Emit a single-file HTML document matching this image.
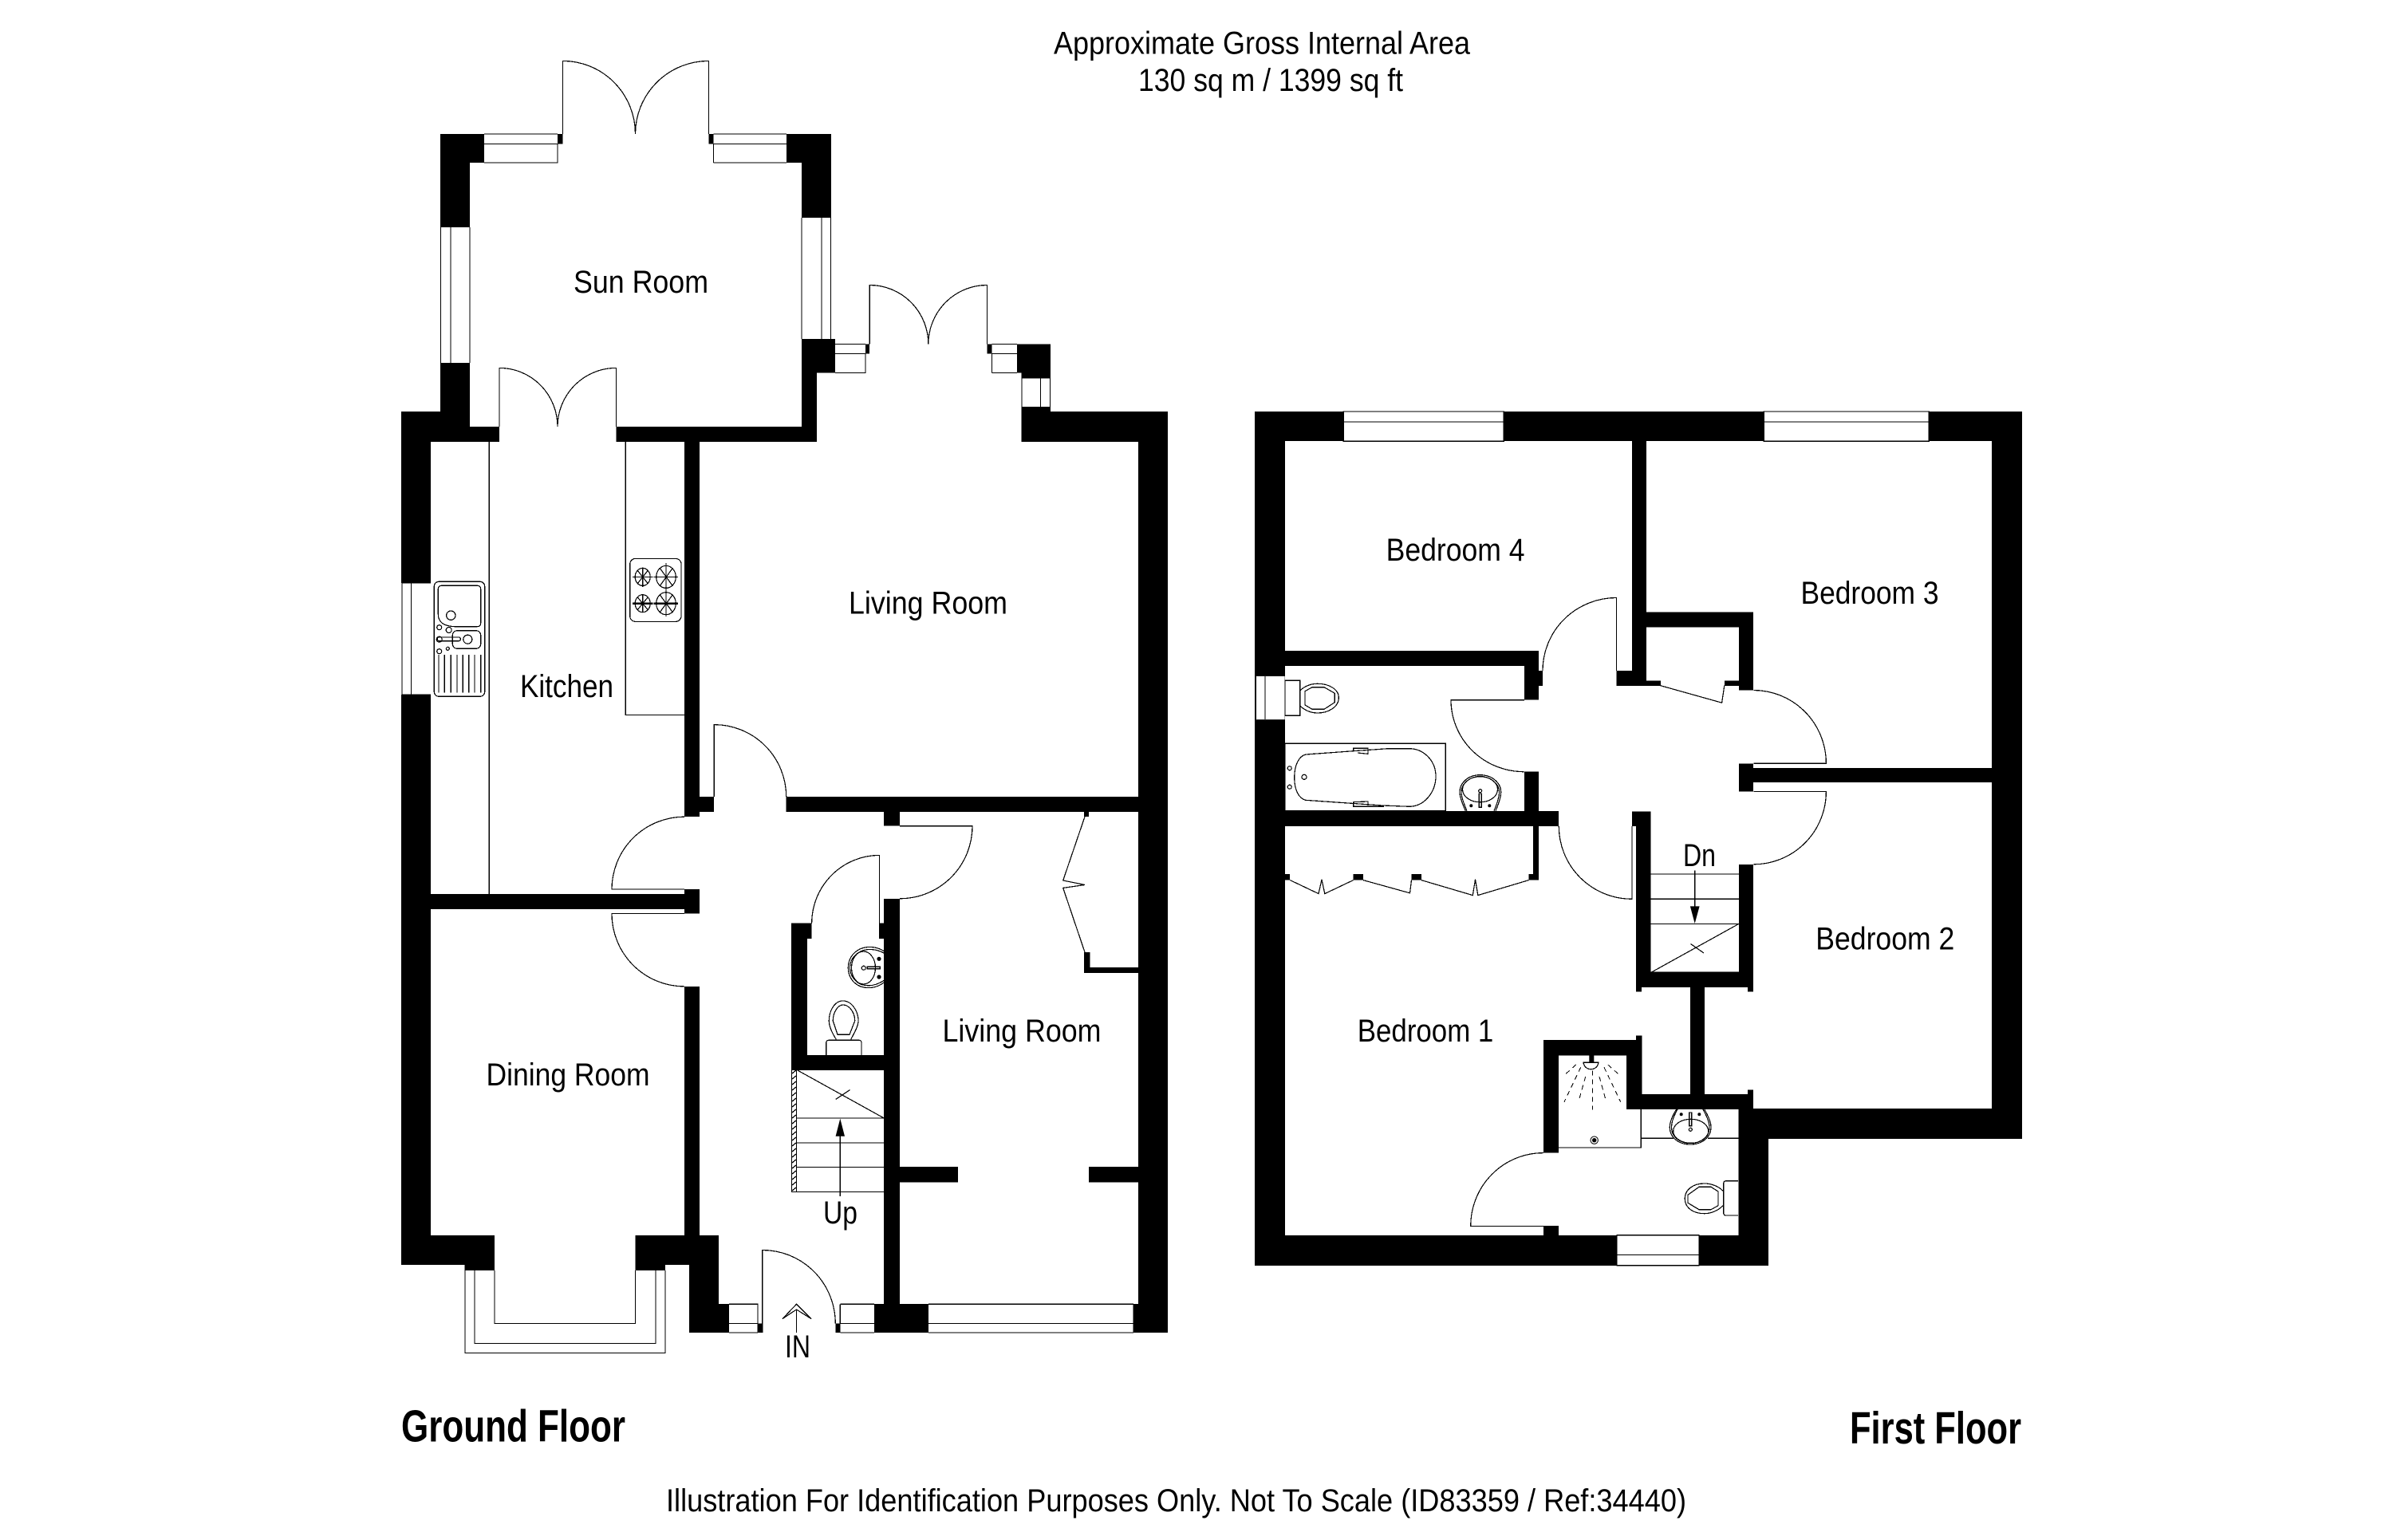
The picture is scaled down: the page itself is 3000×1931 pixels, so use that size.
<!DOCTYPE html>
<html lang="en">
<head>
<meta charset="utf-8">
<title>Floor plan</title>
<style>
html,body{margin:0;padding:0;background:#fff}
svg{display:block}
text{font-family:"Liberation Sans",Arial,sans-serif;fill:#000}
.t{font-size:39.5px}
.b{font-size:57px;font-weight:bold}
.l{fill:none;stroke:#000;stroke-width:1.2;shape-rendering:crispEdges}
.l path,.l rect,.l ellipse,.l circle{fill:none}
.s{fill:none;stroke:#000;stroke-width:1;shape-rendering:crispEdges}
.k{fill:#000;stroke:none}
.w{fill:#fff;stroke:#000;stroke-width:1.2;shape-rendering:crispEdges}
.h{stroke-width:2.4}
</style>
</head>
<body>
<svg width="3000" height="1931" viewBox="0 0 3000 1931" xmlns="http://www.w3.org/2000/svg">
<rect width="3000" height="1931" fill="#fff"/>

<!-- Ground floor walls -->
<path fill="#000" shape-rendering="crispEdges" d="
M552 168H607V204H552Z M552 168H589V285H552Z M986 168H1042V204H986Z M1005 168H1042V273H1005Z
M1005 425H1047V467.5H1005Z M1005 425H1024V554H1005Z M699 168H705.5V180.5H699Z M888.5 168H894.5V180.5H888.5Z
M552 455H589V554H552Z M1085 431.5H1090V443.5H1085Z M1237.5 431.5H1243.5V443.5H1237.5Z M1275 431.5H1317V467.5H1275Z
M1280.5 467H1317V474.5H1280.5Z M1280.5 510H1317V554H1280.5Z M1280.5 516H1464V554H1280.5Z M1427 516H1464V1671H1427Z
M503 516H589V554H503Z M503 516H540V731H503Z M503 871H540V1586H503Z M589 535H626V554H589Z M772.5 535H1024V554H772.5Z
M858 553H877V1024H858Z M876 999H895V1018H876Z M985.7 999H1427V1018H985.7Z M858 1115H877V1145.5H858Z M540 1121H858V1140H540Z
M858 1237H877V1549H858Z M1108 1018H1128V1035.7H1108Z M1108 1127H1128V1635H1108Z M1102 1157.7H1108V1177H1102Z
M992 1157.7H1017.6V1177H992Z M992 1157.7H1012V1342H992Z M992 1323H1128V1342H992Z
M1128 1463H1201V1482.6H1128Z M1365 1463H1427V1482.6H1365Z M1359 1194H1366.5V1220H1359Z M1359 1213H1427V1220H1359Z M1359 1018H1365V1024H1359Z
M503 1549H620V1586H503Z M582.7 1586H620V1593H582.7Z M796.3 1549H901V1586H796.3Z M796.3 1586H834V1593H796.3Z
M864 1586H901V1671H864Z M901 1635H914V1671H901Z M950 1659.5H956V1671H950Z M1047.6 1659.5H1053.3V1671H1047.6Z
M1096 1635H1164V1671H1096Z M1420.7 1635H1464V1671H1420.7Z"/>

<!-- Ground floor windows -->
<g class="l">
<path d="M607 168H699M607 180.5H699M607 204H699V180.5"/>
<path d="M894.5 168H986M894.5 180.5H986M894.5 204H986M894.5 180.5V204"/>
<path d="M552.5 285V455M565 285V455M589 285V455"/>
<path d="M1005 273V425M1030 273V425M1041.5 273V425"/>
<path d="M1047 431.5H1085M1047 443.5H1085M1047 467.5H1085V443.5"/>
<path d="M1243.5 431.5H1275M1243.5 443.5H1275M1243.5 467.5H1275M1243.5 443.5V467.5"/>
<path d="M1281 474.5V510M1304.5 474.5V510M1316.5 474.5V510"/>
<path d="M504 731H540M504 871H540M504 731V871M515.5 731V871"/>
<path d="M914 1635.3H950V1671M914 1659.4H950M914 1671H950"/>
<path d="M1053.3 1635.3H1096M1053.3 1659.4H1096M1053.3 1671H1096M1053.3 1635.3V1659.4"/>
<path d="M1164 1635.3H1421M1164 1659.4H1421M1164 1671H1421"/>
<path d="M583 1593V1696.5H834V1593M595 1593V1684.6H822V1593M620 1593V1659.4H796.5V1593"/>
</g>

<!-- Ground floor doors -->
<g class="l">
<path d="M705.5 168V76.4A91 91.6 0 0 1 796.5 168"/>
<path d="M888.5 168V76.4A92 91.6 0 0 0 796.5 168"/>
<path d="M1090.2 431.5V357.5A73.6 74 0 0 1 1163.8 431.5"/>
<path d="M1237.4 431.5V357.5A73.6 74 0 0 0 1163.8 431.5"/>
<path d="M626 535V461.4A73 73.6 0 0 1 699 535"/>
<path d="M772.5 535V461.4A73.5 73.6 0 0 0 699 535"/>
<path d="M895.2 999V908.6A90.5 90.4 0 0 1 985.7 999"/>
<path d="M858 1024.2A91 91 0 0 0 767 1115H858"/>
<path d="M858 1145.5H767A91 91.4 0 0 0 858 1236.9"/>
<path d="M1128 1035.7H1219A91 91 0 0 1 1128 1126.8"/>
<path d="M1102.4 1158V1072.4A85 85.6 0 0 0 1017.6 1158"/>
<path d="M955.8 1671V1567.5A91.5 92 0 0 1 1047.3 1659.4"/>
<path d="M1360 1024L1332.7 1104L1360 1109.5L1332.7 1113.4L1360 1194"/>
</g>

<!-- Kitchen fittings -->
<g class="l">
<path d="M613.3 554V1121M784.3 554V896.4H858"/>
<rect x="544.3" y="729.3" width="63.4" height="144" rx="6"/>
<path d="M554 734.3H598Q602.7 734.3 602.7 739V781Q602.7 785.7 598 785.7H570Q549.3 785 549.3 770V739Q549.3 734.3 554 734.3Z"/>
<ellipse cx="565.3" cy="771.7" rx="5.7" ry="5.7"/>
<rect x="567.3" y="790.7" width="35.4" height="22.6" rx="6"/>
<circle cx="586.3" cy="801.7" r="5.5"/>
<rect x="548.3" y="799" width="29" height="4.7" rx="2"/>
<circle cx="550.7" cy="801.7" r="3.5"/>
<circle cx="550.7" cy="786.7" r="3"/><circle cx="562.7" cy="790" r="3.5"/><circle cx="550.7" cy="816.7" r="3"/><circle cx="561.3" cy="813.3" r="2"/>
<path d="M550 821V868.3M557.3 821V868.3M565.3 821V868.3M573 821V868.3M580.3 821V868.3M587.7 821V868.3M595 821V868.3M602.7 821V868.3"/>
<rect x="789.7" y="700.4" width="64.3" height="79" rx="7"/>
<ellipse cx="805.7" cy="723.4" rx="9.5" ry="11"/><path d="M793 723.4H818.5M805.7 711.5V736M799 715L812.5 732M812.5 715L799 732"/>
<ellipse cx="835" cy="723.4" rx="12.3" ry="14"/><path d="M819.5 723.4H850M835 706V741.5M827 712L843.5 735M843.5 712L827 735"/>
<ellipse cx="805.7" cy="756.7" rx="9.5" ry="11"/><path d="M805.7 745V768M799 748.5L812.5 765M812.5 748.5L799 765"/>
<ellipse cx="835" cy="756.7" rx="12.3" ry="14"/><path d="M835 741V773M827 745.5L843.5 768M843.5 745.5L827 768"/>
<path class="h" d="M793 756.7H818.5M819.5 756.7H850"/>
</g>

<!-- WC and stairs ground floor -->
<g class="l">
<path d="M1108 1192.5C1098 1186 1086 1186.5 1078 1190C1068 1195 1063.3 1204 1063.3 1213.5C1063.3 1224 1069 1233 1079 1237C1088 1240 1099 1239 1108 1232"/>
<path d="M1108 1195C1098 1189.5 1087 1189.5 1080 1192.5C1070 1197 1065.5 1205 1065.5 1213.5C1065.5 1222 1071 1231 1080 1234.5C1088 1237 1098 1236 1108 1229.5"/>
<ellipse cx="1082.5" cy="1213.5" rx="15" ry="20.5"/>
<circle cx="1082.7" cy="1213.7" r="2.5"/>
<rect x="1087.3" y="1212.3" width="16" height="2.4"/>
<path d="M1048.3 1303.3C1043 1295 1039.3 1287 1039.3 1280C1039.3 1268 1046 1255 1056.7 1255C1068 1255 1076 1268 1076 1280C1076 1287 1071 1295 1066.7 1303.3"/>
<path d="M1050 1297.3L1044.3 1280C1044.3 1270 1050 1260 1057 1260C1065 1260 1071.7 1270 1071.7 1280L1065 1297.3Z"/>
<path d="M1035.7 1323V1308Q1035.7 1304.3 1039 1304.3H1077Q1080 1304.3 1080 1308V1323"/>
<path d="M992.5 1342V1494.4H1108M998.5 1342V1494.4M998.5 1402H1108M998.5 1433H1108M998.5 1463.4H1108M999.8 1342L1108.2 1402M1047.6 1378.5L1065.5 1366.6M1053.3 1500V1424"/>
<path d="M993 1346L998 1342M993 1353L998 1349M993 1360L998 1356M993 1367L998 1363M993 1374L998 1370M993 1381L998 1377M993 1388L998 1384M993 1395L998 1391M993 1402L998 1398M993 1409L998 1405M993 1416L998 1412M993 1423L998 1419M993 1430L998 1426M993 1437L998 1433M993 1444L998 1440M993 1451L998 1447M993 1458L998 1454M993 1465L998 1461M993 1472L998 1468M993 1479L998 1475M993 1486L998 1482M993 1493L998 1489"/>
</g>
<circle class="k" cx="1102" cy="1202.3" r="2.6"/><circle class="k" cx="1102" cy="1225" r="2.6"/>
<path d="M1053.3 1402.6L1059 1424.8H1047.6Z" fill="#000"/>

<!-- Entrance arrow -->
<path class="l" d="M998.5 1671V1642M981 1653.6L998.5 1635.3L1017 1653.6L998.5 1642Z"/>

<!-- First floor walls -->
<path fill="#000" shape-rendering="crispEdges" d="
M1573 516H2535V553H1573Z M1573 516H1611V1587H1573Z M2497 516H2535V1428H2497Z M2198 1390H2535V1428H2198Z M1573 1549H2217V1587H1573Z M2179.4 1391H2217V1587H2179.4Z
M2046 553H2064V860H2046Z M2026.5 841H2064V860H2026.5Z M2064 767.5H2198V786.7H2064Z M2180 767.5H2198V865.5H2180Z M2064 853.6H2082V860H2064Z M2162 853.6H2180V860H2162Z
M1611 816H1929V835H1611Z M1911 835H1929V877.7H1911Z M1929 841H1934V860H1929Z M1911 967.7H1929V1017H1911Z M1611 1017H1954V1036H1611Z M2046 1017.4H2069.4V1036H2046Z
M2051 1036H2069.4V1238H2051Z M2180 957.3H2198V992.5H2180Z M2198 963H2497V981H2198Z M2180 1083.8H2198V1238H2180Z M2051 1218.7H2198V1238H2051Z M2051 1238H2058V1243.6H2051Z M2191 1238H2198V1243.6H2191Z
M1922 1036H1929V1103.6H1922Z M1611 1096H1617V1103.6H1611Z M1696.6 1096H1709V1103.6H1696.6Z M1769.5 1096H1782V1103.6H1769.5Z M1916.5 1096H1929V1103.6H1916.5Z
M2119 1237H2137V1372H2119Z M1935 1304H2058.4V1323.4H1935Z M1935 1304H1954V1445.6H1935Z M2039 1304H2058.4V1391H2039Z M2051 1298.5H2058.4V1304H2051Z M2039 1372H2198V1391H2039Z M2191 1366.6H2198V1372H2191Z M1935 1537H1954V1549H1935Z"/>

<!-- First floor windows -->
<rect x="1684.3" y="516" width="201" height="37.2" class="w"/>
<path class="l" d="M1684.3 529H1885.3"/>
<rect x="2211.3" y="516" width="207" height="37.2" class="w"/>
<path class="l" d="M2211.3 529H2418.2"/>
<rect x="1574.3" y="847.9" width="36.4" height="54.3" fill="#fff"/>
<path class="l" d="M1574.5 847.9V902.2M1586 847.9V902.2"/>
<rect x="2027" y="1548.8" width="103" height="38" class="w"/>
<path class="l" d="M2027 1573.4H2130"/>

<!-- First floor doors -->
<g class="l">
<path d="M2026.5 841V749.5A92.5 91.5 0 0 0 1934 841"/>
<path d="M1911 877.7H1819A91.7 90 0 0 0 1910.7 967.7"/>
<path d="M2081.8 859.7L2158.6 881.2L2161.8 859.7"/>
<path d="M2198.3 865.5A91 91.8 0 0 1 2289.4 957.3H2198.3"/>
<path d="M2198.3 992.5H2289.4A91 91.3 0 0 1 2198.3 1083.8"/>
<path d="M1954.3 1036A91.7 91.3 0 0 0 2046 1127.3V1036"/>
<path d="M1934.8 1537.4H1843.7A91 91.8 0 0 1 1934.8 1445.6"/>
<path d="M1617.3 1103.6L1653 1120.6L1657 1102.8L1660.8 1120.6L1696.6 1103.6"/>
<path d="M1709 1103.6L1767.5 1119.8L1769.5 1103.6"/>
<path d="M1781.9 1103.6L1846.3 1122.6L1849.5 1102.8L1852.8 1122.6L1916.5 1103.6"/>
</g>

<!-- First floor stairs -->
<g class="l">
<path d="M2069.4 1096H2180M2069.4 1127.3H2180M2069.4 1158.6H2180M2071 1218.7L2179.5 1158.6M2119.5 1183.5L2136 1195M2124.7 1091.7V1137"/>
</g>
<path d="M2124.7 1158L2130.6 1136.4H2118.9Z" fill="#000"/>

<!-- Bathroom fittings -->
<g class="l">
<rect x="1611" y="853.3" width="18.7" height="44"/>
<path d="M1629.7 866C1636 860 1644 857.3 1651.7 857.3C1666 857.3 1678.3 864 1678.3 875C1678.3 886 1666 894 1651.7 894C1644 894 1636 891 1629.7 885"/>
<path d="M1636 866.7L1645 861.7H1660L1673.3 869.3V880.7L1660 889.3H1645L1636 884Z"/>
<rect x="1611" y="932.3" width="201.3" height="84.4"/>
<path d="M1637.3 946L1696.7 941.7L1740 938.7H1766.7C1785 938.7 1800 954 1800 973.3C1800 994 1785 1011.3 1766.7 1011.3L1733 1010L1636.7 1003.3C1628 1001 1622.7 990 1622.7 975C1622.7 960 1628 948 1637.3 946Z"/>
<path d="M1696.7 941.7V938.3H1715V945.3L1702 944M1696.7 1005.7V1011.3H1735M1696.7 1005.7L1715 1005V1010"/>
<circle cx="1616.7" cy="963.3" r="2.5"/><circle cx="1616.7" cy="986.7" r="2.5"/><circle cx="1635" cy="974.3" r="3"/>
<path d="M1837.3 1016.7C1832 1005 1830 998 1830 993.3C1830 982 1840 971.7 1855.5 971.7C1871 971.7 1881.7 982 1881.7 993.3C1881.7 998 1880 1005 1875 1016.7"/>
<path d="M1839 1016.7C1834 1005 1832 998 1832 993.3C1832 983 1842 973.5 1855.5 973.5C1869 973.5 1879.5 983 1879.5 993.3C1879.5 998 1878 1005 1873 1016.7"/>
<ellipse cx="1855.5" cy="989.8" rx="22" ry="16"/>
<circle cx="1855.7" cy="991.7" r="2"/>
<rect x="1854.3" y="995" width="3" height="17.3"/>
<path d="M2101.7 1391C2096 1400 2093.3 1407 2093.3 1413.3C2093.3 1426 2104 1435 2119 1435C2134 1435 2145 1426 2145 1413.3C2145 1407 2142 1400 2136.7 1391"/>
<path d="M2103 1391C2098 1400 2095.5 1407 2095.5 1413.3C2095.5 1425 2105 1433.5 2119 1433.5C2133 1433.5 2143 1425 2143 1413.3C2143 1407 2140 1400 2135 1391"/>
<ellipse cx="2119.7" cy="1418.3" rx="22" ry="15"/>
<circle cx="2119.3" cy="1416.3" r="2"/>
<rect x="2117.7" y="1395" width="3" height="16.7"/>
<path d="M2057.3 1391V1439H1954M2057.3 1427.3H2098M2141 1427.3H2179.4"/>
<path d="M2160 1493.3C2154 1487 2145 1484 2136.7 1484C2122 1484 2112.3 1492 2112.3 1503C2112.3 1514 2122 1521.7 2136.7 1521.7C2145 1521.7 2154 1518 2160 1511.7"/>
<path d="M2116 1498.3L2130 1488.3H2145L2154 1494V1511.7L2145 1516.7H2130L2116 1508.3Z"/>
<path d="M2179 1480.7H2164Q2160.7 1480.7 2160.7 1484V1521Q2160.7 1524 2164 1524H2179"/>
</g>
<circle class="k" cx="1844.3" cy="1010.3" r="2"/><circle class="k" cx="1867.3" cy="1010.3" r="2"/>
<circle class="k" cx="2107.7" cy="1397.3" r="2"/><circle class="k" cx="2130.3" cy="1397.3" r="2"/>
<path d="M1992.3 1323H1998.3V1333H1992.3Z" fill="#000"/>
<path class="l" d="M1985 1332.3H2004C2003 1338 1999 1340.7 1994.5 1340.7C1990 1340.7 1986 1338 1985 1332.3Z"/>
<path class="s" stroke-dasharray="6 5" d="M1975.7 1335L1961.7 1347.7M2015.7 1335L2030 1347.7M1981.7 1338.3L1961 1381.7M2011 1338.3L2031.7 1381.7M1987.7 1350L1979.3 1380M2005 1350L2013.3 1380M1996.3 1342.7V1391.7"/>
<circle class="k" cx="1998.7" cy="1429.7" r="2.7"/>
<circle cx="1998.7" cy="1429.7" r="4.7" fill="none" stroke="#000" stroke-width="1"/>

<!-- Labels -->
<text class="t" x="1321" y="67.3" textLength="522" lengthAdjust="spacingAndGlyphs">Approximate Gross Internal Area</text>
<text class="t" x="1427" y="114" textLength="332" lengthAdjust="spacingAndGlyphs">130 sq m / 1399 sq ft</text>
<text class="t" x="719" y="367" textLength="169" lengthAdjust="spacingAndGlyphs">Sun Room</text>
<text class="t" x="652" y="873.8" textLength="117" lengthAdjust="spacingAndGlyphs">Kitchen</text>
<text class="t" x="1064" y="769.7" textLength="199" lengthAdjust="spacingAndGlyphs">Living Room</text>
<text class="t" x="609.5" y="1361" textLength="205" lengthAdjust="spacingAndGlyphs">Dining Room</text>
<text class="t" x="1181.5" y="1306" textLength="199" lengthAdjust="spacingAndGlyphs">Living Room</text>
<text class="t" x="1032" y="1533.8" textLength="43" lengthAdjust="spacingAndGlyphs">Up</text>
<text class="t" x="984" y="1702" textLength="32" lengthAdjust="spacingAndGlyphs">IN</text>
<text class="t" x="1737.6" y="702.8" textLength="174" lengthAdjust="spacingAndGlyphs">Bedroom 4</text>
<text class="t" x="2257.5" y="757.2" textLength="173" lengthAdjust="spacingAndGlyphs">Bedroom 3</text>
<text class="t" x="2276.3" y="1190.6" textLength="174" lengthAdjust="spacingAndGlyphs">Bedroom 2</text>
<text class="t" x="1701.8" y="1306" textLength="170.5" lengthAdjust="spacingAndGlyphs">Bedroom 1</text>
<text class="t" x="2110" y="1086.2" textLength="41" lengthAdjust="spacingAndGlyphs">Dn</text>
<text class="b" x="503" y="1807.3" textLength="281" lengthAdjust="spacingAndGlyphs">Ground Floor</text>
<text class="b" x="2319" y="1810" textLength="215" lengthAdjust="spacingAndGlyphs">First Floor</text>
<text class="t" x="835" y="1895" textLength="1279" lengthAdjust="spacingAndGlyphs">Illustration For Identification Purposes Only. Not To Scale (ID83359 / Ref:34440)</text>
</svg>
</body>
</html>
